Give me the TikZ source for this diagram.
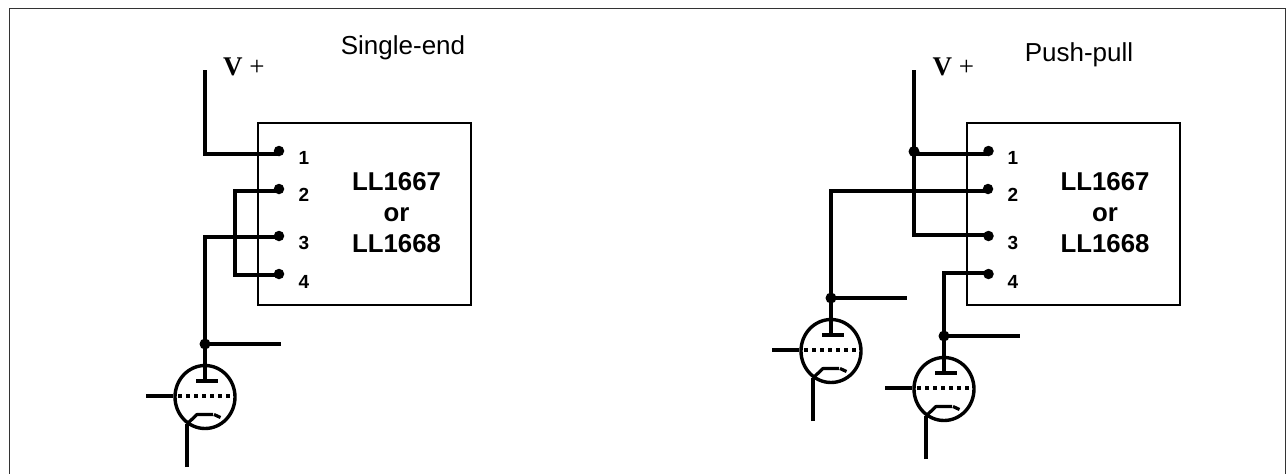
\documentclass[tikz,border=0pt]{standalone}
\usepackage{fontspec}
\setmainfont{Liberation Sans}
\newfontfamily\timesf{Liberation Serif}
\usetikzlibrary{shapes.geometric}
\tikzset{
  x=1pt,y=-1pt,
  wire/.style={line width=3.6pt,line cap=butt,line join=miter,black},
  boxs/.style={draw=black,line width=2.4pt,fill=none,minimum width=213pt,minimum height=182pt,inner sep=0pt},
  dotn/.style={circle,fill=black,inner sep=0pt,minimum size=10.5pt},
  jn/.style={circle,fill=black,inner sep=0pt,minimum size=11pt},
  pinl/.style={font=\bfseries\fontsize{19}{19}\selectfont,inner sep=0pt,anchor=center},
  partl/.style={font=\bfseries\fontsize{25.8}{31.3}\selectfont,align=center,inner sep=0pt},
  titl/.style={font=\fontsize{26}{26}\selectfont,inner sep=0pt,anchor=base},
  vl/.style={font=\timesf\fontsize{27}{27}\selectfont,inner sep=0pt,anchor=base west},
  tube/.style={draw=black,line width=3.4pt,ellipse,minimum width=60pt,minimum height=63pt,inner sep=0pt}
}
\begin{document}
\begin{tikzpicture}
\useasboundingbox (0,0) rectangle (1286,474);
\fill[white] (0,0) rectangle (1286,474);
\draw[line width=0.9pt,black!80] (9.5,474) -- (9.5,8.5) -- (1285.5,8.5) -- (1285.5,474);
% ---------- boxes
\node[boxs] (boxA) at (364.5,214) {};
\node[boxs] (boxB) at (1073.5,214) {};
\node[partl] (partA) at (396.5,212.5) {LL1667\\or\\LL1668};
\node[partl] (partB) at (1105,212.5) {LL1667\\or\\LL1668};
% ---------- pins
\foreach \n/\px/\py/\ly in {1/279/151/158,2/279/189/195,3/279/236/243,4/279/274/282}{
  \node[dotn] (a\n) at (\px,\py) {};
  \node[pinl] (la\n) at (304,\ly) {\n};
}
\foreach \n/\px/\py/\ly in {1/988.5/151/158,2/988/189/195,3/988.5/236/243,4/988.5/274/282}{
  \node[dotn] (b\n) at (\px,\py) {};
  \node[pinl] (lb\n) at (1013,\ly) {\n};
}
% ---------- titles
\node[titl] (tA) at (403,54.5) {Single-end};
\node[titl] (tB) at (1079,61.5) {Push-pull};
\node[vl] (vA) at (223,75.5) {\textbf{V} +};
\node[vl] (vB) at (932.5,75.5) {\textbf{V} +};
% ---------- free ends and junctions
\coordinate (vtopA) at (205,70);
\coordinate (vtopB) at (914,70);
\coordinate (a1c) at (205,154);
\coordinate (a2c) at (235,191);
\coordinate (a4c) at (235,275);
\coordinate (a3c) at (205,237);
\coordinate (b3c) at (914,235);
\coordinate (b2c) at (831,191);
\coordinate (b4c) at (944,273);
\node[jn] (j1) at (914,151.5) {};
% ---------- wiring, left
\draw[wire] (vtopA) -- (a1c) -- (a1.center |- a1c);
\draw[wire] (a2.center |- a2c) -- (a2c) -- (a4c) -- (a4.center |- a4c);
\draw[wire] (a3.center |- a3c) -- (a3c) -- (205,344);
% ---------- wiring, right
\draw[wire] (vtopB) -- (b3c) -- (b3.center |- b3c);
\draw[wire] (j1.center |- a1c) -- (b1.center |- a1c);
\draw[wire] (b2.center |- b2c) -- (b2c) -- (831,298);
\draw[wire] (b4.center |- b4c) -- (b4c) -- (944,336);
% ---------- tubes
\foreach \nm/\dx/\dy in {T/0/0,U/626/-46,V/739/-8}{
\begin{scope}[shift={(\dx,\dy)}]
  \node[jn] (\nm j) at (205,344) {};
  \node[tube] (\nm e) at (205,397) {};
  \coordinate (\nm o) at (281,344);
  \draw[wire] (\nm j.center) -- (\nm o);
  \draw[wire] (\nm j.center) -- (205,381);
  \draw[wire] (196,381) -- (218,381);
  \draw[wire] (146,396) -- (\nm e.west |- 0,396);
  \draw[wire,dash pattern=on 4pt off 4pt] (178,396) -- (232,396);
  \draw[wire] (187,467) -- (187,424);
  \draw[line width=3.2pt,line join=round] (187,424) -- (197,414.5) -- (213,414.5);
  \draw[line width=3.2pt] (214,414.5) -- (220.5,417.5);
\end{scope}}
\end{tikzpicture}
\end{document}
